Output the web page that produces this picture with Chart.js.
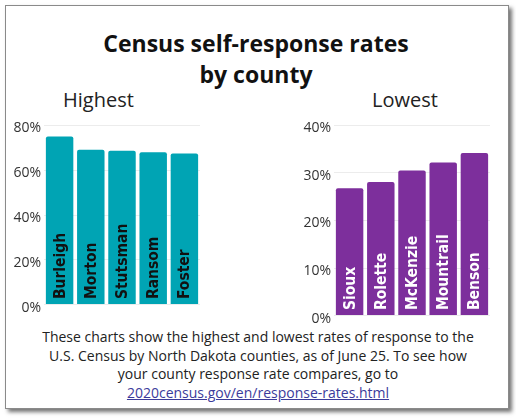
<!DOCTYPE html>
<html>
<head>
<meta charset="utf-8">
<script src="https://cdn.jsdelivr.net/npm/chart.js@4"></script>
<style>
  body { margin: 0; background: #fff; width: 516px; height: 420px; position: relative; overflow: hidden; }
  .card { position: absolute; left: 5px; top: 5px; width: 502px; height: 402px; border: 1px solid #8a8a8a;
          background: #fff; box-shadow: 3px 3px 4px rgba(0,0,0,0.55); }
  .title { position: absolute; left: 0; width: 512px; top: 28px; text-align: center; font: bold 23px "Open Sans";
           line-height: 31px; color: #111; }
  .sub { position: absolute; top: 86px; font: 20px "Open Sans"; color: #222; }
  .note { position: absolute; left: 0; width: 516px; top: 328px; text-align: center; font: 14px "Open Sans";
          line-height: 18.5px; color: #222; }
  .note a { color: #3b3b9b; text-decoration: underline; }
  canvas { position: absolute; }
</style>
</head>
<body>
<div class="card"></div>
<div class="title">Census self-response rates<br>by county</div>
<div class="sub" style="left:63px">Highest</div>
<div class="sub" style="left:372px">Lowest</div>
<div id="cl" style="position:absolute;left:8px;top:114px;width:192px;height:202px"><canvas id="highChart"></canvas></div>
<div id="cr" style="position:absolute;left:298px;top:114px;width:192px;height:213px"><canvas id="lowChart"></canvas></div>
<div class="note">These charts show the highest and lowest rates of response to the<br>U.S. Census by North Dakota counties, as of June 25. To see how<br>your county response rate compares, go to<br><a> 2020census.gov/en/response-rates.html</a></div>
<script>
var highCounties = ["Burleigh", "Morton", "Stutsman", "Ransom", "Foster"];
var highRates = [75.0, 69.1, 68.7, 68.0, 67.4];
var lowCounties = ["Sioux", "Rolette", "McKenzie", "Mountrail", "Benson"];
var lowRates = [26.8, 28.1, 30.5, 32.2, 34.2];

var highTicks = { max: 80, step: 20 };
var lowTicks = { max: 40, step: 10 };

// writes the county name up the inside of each bar
var barNames = {
  id: "barNames",
  afterDatasetsDraw(chart, args, opts) {
    var ctx = chart.ctx;
    var meta = chart.getDatasetMeta(0);
    ctx.save();
    ctx.fillStyle = opts.color;
    ctx.font = "bold 15.5px 'DejaVu Sans Condensed'";
    ctx.textAlign = "left";
    ctx.textBaseline = "middle";
    meta.data.forEach(function (bar, i) {
      ctx.save();
      ctx.translate(bar.x, bar.base - 5);
      ctx.rotate(-Math.PI / 2);
      ctx.fillText(chart.data.labels[i], 0, 1);
      ctx.restore();
    });
    ctx.restore();
  }
};

function makeChart(id, labels, values, colour, textColour, ticks) {
  return new Chart(document.getElementById(id), {
    type: "bar",
    data: {
      labels: labels,
      datasets: [{
        data: values,
        backgroundColor: colour,
        borderRadius: { topLeft: 2, topRight: 2 },
        borderSkipped: "bottom",
        barPercentage: 0.88,
        categoryPercentage: 1
      }]
    },
    options: {
      responsive: true,
      maintainAspectRatio: false,
      animation: false,
      layout: { padding: 0 },
      plugins: {
        legend: { display: false },
        tooltip: { enabled: false },
        barNames: { color: textColour }
      },
      scales: {
        x: { display: false },
        y: {
          min: 0,
          max: ticks.max,
          afterFit: function (s) { s.width = 36; },
          border: { display: false },
          grid: { color: "#ececec", drawTicks: false },
          ticks: {
            stepSize: ticks.step,
            padding: 3,
            labelOffset: 3,
            color: "#333",
            font: { family: "Open Sans", size: 14 },
            callback: function (v) { return v + "%"; }
          }
        }
      }
    },
    plugins: [barNames]
  });
}

makeChart("highChart", highCounties, highRates, "#00a4b4", "#111", highTicks);
makeChart("lowChart", lowCounties, lowRates, "#7d2f9c", "#fff", lowTicks);
</script>
</body>
</html>
